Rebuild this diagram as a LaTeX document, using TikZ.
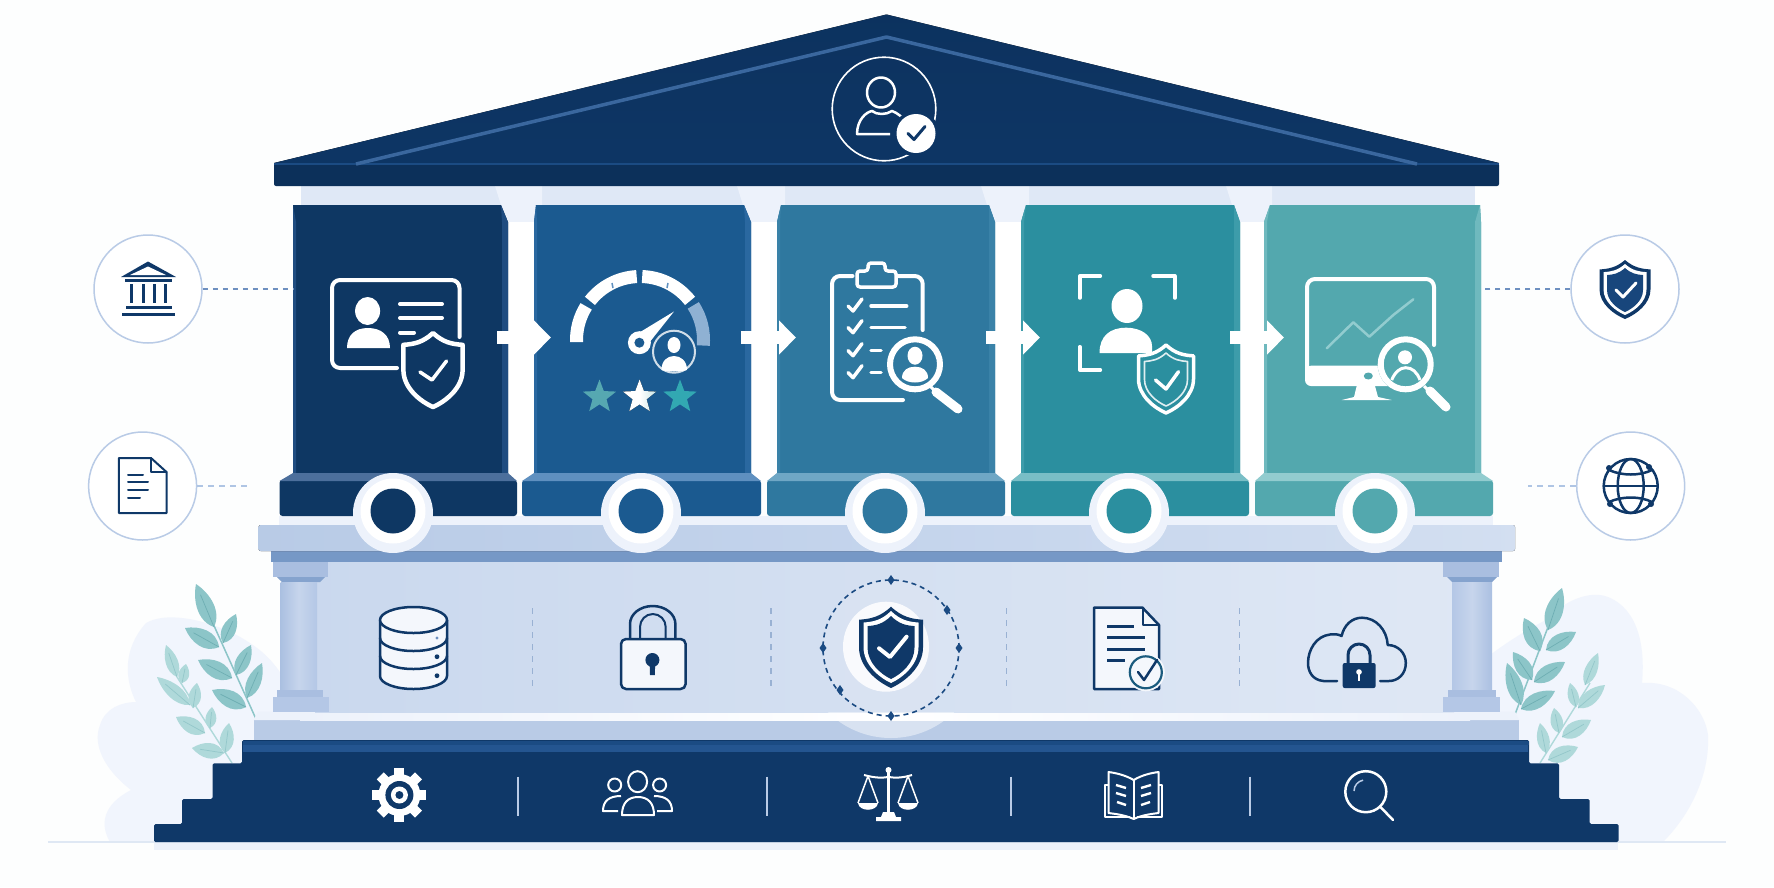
\documentclass[tikz,border=0pt]{standalone}
\usetikzlibrary{arrows.meta,calc}
\definecolor{navy}{HTML}{0F3868}
\definecolor{roofnavy}{HTML}{0D3564}
\definecolor{navyb}{HTML}{1B4B83}
\definecolor{navyc}{HTML}{245590}
\definecolor{paper}{HTML}{FDFEFE}
\definecolor{ring}{HTML}{B9CBE6}
\definecolor{linkdark}{HTML}{6E90C0}
\definecolor{linklight}{HTML}{AFC5E4}
\definecolor{pale}{HTML}{EDF2FB}
\definecolor{blob}{HTML}{F1F5FD}
\definecolor{beam}{HTML}{C4D4EC}
\definecolor{under}{HTML}{7698C6}
\definecolor{stylo}{HTML}{B9CBE6}
\definecolor{capit}{HTML}{A9BEE0}
\definecolor{shaft}{HTML}{B4C7E6}
\definecolor{iconfill}{HTML}{F4F7FC}
\definecolor{leafa}{HTML}{8CC5C8}
\definecolor{leafb}{HTML}{AFD9DA}
\definecolor{veina}{HTML}{6EAEB3}
\definecolor{veinb}{HTML}{93C7CA}
\definecolor{pA}{HTML}{0E3763}\definecolor{pAb}{HTML}{1F4C80}\definecolor{pAs}{HTML}{4C6F9C}
\definecolor{pB}{HTML}{1B5A90}\definecolor{pBb}{HTML}{2A68A0}\definecolor{pBs}{HTML}{5F90C0}
\definecolor{pC}{HTML}{2F789F}\definecolor{pCb}{HTML}{3A82A8}\definecolor{pCs}{HTML}{6FA7C5}
\definecolor{pD}{HTML}{2B8F9F}\definecolor{pDb}{HTML}{3D9CAA}\definecolor{pDs}{HTML}{79BEC6}
\definecolor{pE}{HTML}{53A8AE}\definecolor{pEb}{HTML}{6FB9BE}\definecolor{pEs}{HTML}{92CCCF}
\tikzset{
  sidecircle/.style={circle,draw=ring,line width=1.5pt,fill=white,minimum size=108pt,inner sep=0pt},
  linkstrong/.style={draw=linkdark,line width=1.6pt,dash pattern=on 5pt off 5pt},
  linksoft/.style={draw=linklight,line width=1.6pt,dash pattern=on 6pt off 5pt},
  flowarrow/.style={draw=white,line width=13pt,-{Triangle[length=17pt,width=33pt,fill=white]}},
  wline/.style={draw=white,line width=4pt,line cap=round,line join=round},
  wthin/.style={draw=white,line width=3pt,line cap=round,line join=round},
  nline/.style={draw=navy,line width=2.5pt,line cap=round,line join=round},
  nthin/.style={draw=navy,line width=2pt,line cap=round,line join=round},
  divider/.style={draw=#1,line width=1.5pt,dash pattern=on 6pt off 6pt},
  stepline/.style={draw=ring,line width=1.2pt}
}
% Heater shield in unit coordinates: top centre at the origin, half width 1, height 1
\newcommand\shieldpath{(0,0) .. controls (.35,.13) and (.65,.15) .. (1,.16) -- (1,.5) .. controls (1,.74) and (.45,.92) .. (0,1) .. controls (-.45,.92) and (-1,.74) .. (-1,.5) -- (-1,.16) .. controls (-.65,.15) and (-.35,.13) .. (0,0) -- cycle}
\newcommand\shieldat[5]{\begin{scope}[shift={(#1,#2)},x=#3pt,y=-#4pt]\path[#5]\shieldpath;\end{scope}}
% Leaf from base to tip: base x, base y, tip x, tip y, width, fill, vein
\newcommand\leafat[7]{%
  \pgfmathsetmacro\leafang{atan2(#2-#4,#3-#1)}%
  \pgfmathsetmacro\leaflen{veclen(#3-#1,#4-#2)}%
  \begin{scope}[shift={(#1,#2)},rotate=\leafang,x=1pt,y=1pt]
    \fill[#6] (0,0) .. controls ({.25*\leaflen},{1.2*#5}) and ({.7*\leaflen},{.85*#5}) .. ({\leaflen},0)
      .. controls ({.7*\leaflen},{-.85*#5}) and ({.25*\leaflen},{-1.2*#5}) .. cycle;
    \draw[#7,line width=.7pt] (0,0) -- ({.75*\leaflen},0);
  \end{scope}}
% Five-pointed star: centre x, centre y, outer radius, fill
\newcommand\starat[4]{\begin{scope}[shift={(#1,#2)}]
  \fill[#4] (-90:#3) -- (-54:{.42*#3}) -- (-18:#3) -- (18:{.42*#3}) -- (54:#3) -- (90:{.42*#3}) -- (126:#3) -- (162:{.42*#3}) -- (198:#3) -- (234:{.42*#3}) -- cycle;
\end{scope}}
\newcommand\markat[2]{\fill[navyb] (#1,#2-5) -- (#1+3.5,#2) -- (#1,#2+5) -- (#1-3.5,#2) -- cycle;}
% Pillar panel: left, right, left chamfer, right chamfer, base left, base right, colour stem
\newcommand\panelat[7]{%
  \fill[#7] ({#1+#3},205) -- ({#2-#4},205) -- (#2,222) -- (#2,473) -- (#1,473) -- (#1,222) -- cycle;
  \fill[#7b] ({#2-#4},205) -- (#2,222) -- (#2,473) -- ({#2-6},473) -- ({#2-6},222) -- cycle;
  \fill[#7b] ({#1+#3},205) -- (#1,222) -- (#1,473) -- ({#1+3},473) -- ({#1+3},222) -- cycle;
  \fill[#7,rounded corners=3pt] (#5,480) rectangle (#6,516);
  \fill[#7s] (#5,481) -- (#1,473) -- (#2,473) -- (#6,481) -- cycle;
}
% Capital flaring from the frieze into the gap between two panels
\newcommand\capitalat[4]{\fill[#4] (#1,186) -- (#2,186) -- (#2,205) -- ({#2-8},222) -- ({#1+14},222) -- ({#1+6},205) -- cycle; \fill[white] ({#1+14},222) rectangle ({#2-8},480);}
\newcommand\discat[3]{%
  \fill[pale] (#1,513) circle[radius=40pt];
  \fill[white] (#1,511) circle[radius=32.5pt];
  \fill[#2] (#1,511) circle[radius=22.5pt];}
\begin{document}
\begin{tikzpicture}[x=1pt,y=-1pt,line join=round]
\useasboundingbox (0,0) rectangle (1774,887);
\fill[paper] (0,0) rectangle (1774,887);

% Soft background shapes at both sides
\fill[blob] (110,842) .. controls (100,825) and (102,805) .. (131,790)
  .. controls (105,770) and (92,745) .. (100,725) .. controls (105,708) and (122,702) .. (136,702)
  .. controls (125,680) and (122,650) .. (146,623) .. controls (165,612) and (200,618) .. (233,633)
  .. controls (255,645) and (270,655) .. (285,680) -- (285,842) -- cycle;
\fill[blob] (1490,842) -- (1490,655) .. controls (1510,640) and (1530,628) .. (1546,620)
  .. controls (1565,600) and (1590,590) .. (1608,597) .. controls (1640,610) and (1645,650) .. (1642,683)
  .. controls (1680,680) and (1705,710) .. (1708,735) .. controls (1710,775) and (1690,815) .. (1663,842) -- cycle;

% Ground line and its shadow
\fill[pale] (154,843) rectangle (1618,850);
\fill[ring!45] (48,841) rectangle (1726,843);

% Foliage on the left
\draw[leafb,line width=1.4pt] (232,763) -- (177,677);
\leafat{177}{677}{166}{645}{8}{leafb}{veinb}
\leafat{182}{683}{186}{664}{7}{leafb}{veinb}
\leafat{190}{705}{157}{677}{9}{leafb}{veinb}
\leafat{193}{708}{197}{683}{8}{leafb}{veinb}
\leafat{205}{733}{176}{717}{10}{leafb}{veinb}
\leafat{210}{728}{212}{707}{7}{leafb}{veinb}
\leafat{225}{753}{229}{723}{9}{leafb}{veinb}
\leafat{224}{753}{192}{748}{10}{leafb}{veinb}
\draw[leafa,line width=1.5pt] (256,719) -- (213.7,625);
\leafat{214}{627}{196}{584}{11}{leafa}{veina}
\leafat{223}{643}{236}{614}{9}{leafa}{veina}
\leafat{219}{647}{185}{628}{11}{leafa}{veina}
\leafat{236}{675}{251}{645}{9}{leafa}{veina}
\leafat{232}{678}{198}{660}{11}{leafa}{veina}
\leafat{247}{698}{262}{663}{9}{leafa}{veina}
\leafat{246}{707}{212}{690}{11}{leafa}{veina}

% Foliage on the right
\draw[leafb,line width=1.4pt] (1540,763) -- (1590,683);
\leafat{1585}{685}{1598}{653}{8}{leafb}{veinb}
\leafat{1578}{708}{1605}{685}{9}{leafb}{veinb}
\leafat{1576}{707}{1570}{683}{7}{leafb}{veinb}
\leafat{1559}{733}{1554}{708}{8}{leafb}{veinb}
\leafat{1562}{737}{1591}{720}{10}{leafb}{veinb}
\leafat{1546}{753}{1540}{723}{8}{leafb}{veinb}
\leafat{1548}{760}{1578}{747}{10}{leafb}{veinb}
\draw[leafa,line width=1.5pt] (1514,717) -- (1548,627);
\leafat{1548}{630}{1562}{588}{11}{leafa}{veina}
\leafat{1540}{651}{1524}{618}{11}{leafa}{veina}
\leafat{1546}{650}{1576}{632}{10}{leafa}{veina}
\leafat{1532}{680}{1513}{652}{10}{leafa}{veina}
\leafat{1534}{682}{1565}{662}{10}{leafa}{veina}
\leafat{1521}{705}{1507}{663}{10}{leafa}{veina}
\leafat{1521}{709}{1555}{691}{10}{leafa}{veina}

% Stepped plinth
\fill[navy,rounded corners=1.5pt] (154,842) -- (154,824) -- (182,824) -- (182,799) -- (212.6,799) -- (212.6,763.3) -- (242,763.3) -- (242,740)
  -- (1529,740) -- (1529,763.3) -- (1559,763.3) -- (1559,799) -- (1589.6,799) -- (1589.6,824) -- (1618.6,824) -- (1618.6,842) -- cycle;
\fill[navyb] (242.5,740.5) rectangle (1528.5,745);
\fill[navyc] (243,745) rectangle (1528,752);

% Stylobate
\fill[stylo] (253.5,720) rectangle (1519,740);
\fill[pale] (258,711.5) -- (1515,711.5) -- (1519,720) -- (253.5,720) -- cycle;
\fill[left color=pale,right color=pale,middle color=white] (300,713) rectangle (1470,720);

% Wall between the small columns
\fill[left color=beam!90!white,right color=beam!55!white] (315,562) rectangle (1454,712);

% Small columns
\fill[capit] (273,562) rectangle (328,577);
\fill[under!70!capit] (277,577) -- (325,577) -- (320,582) -- (282,582) -- cycle;
\fill[left color=shaft!85!under,right color=shaft,middle color=shaft!75!white] (280.5,582) rectangle (317,690);
\fill[capit] (277,690) rectangle (323,697);
\fill[shaft] (273,697) rectangle (329,712);
\fill[capit] (1443,562) rectangle (1499,577);
\fill[under!70!capit] (1447,577) -- (1497,577) -- (1492,582) -- (1452,582) -- cycle;
\fill[left color=shaft,right color=shaft!85!under,middle color=shaft!75!white] (1452,582) rectangle (1492,690);
\fill[capit] (1448,690) rectangle (1496,697);
\fill[shaft] (1442.5,697) rectangle (1500,712);

% Entablature
\fill[under] (271,551) rectangle (1502,562);
\fill[left color=beam!85!under,right color=beam!75!white,middle color=beam,rounded corners=2pt] (258.6,525) rectangle (1515,551);
\fill[pale] (279,516) rectangle (1493,525);

% Frieze and capitals above the panels
\fill[pale!65!beam] (301,186) rectangle (1475,205);
\capitalat{495}{542}{0}{pale}
\capitalat{737}{785}{0}{pale}
\capitalat{981}{1029}{0}{pale}
\capitalat{1226}{1272}{0}{pale}

% Pillar panels
\panelat{293}{508}{0}{7}{279.5}{517}{pA}
\panelat{534}{751}{2}{7}{522}{761}{pB}
\panelat{777}{995}{4}{6}{767}{1005}{pC}
\panelat{1021}{1240}{5}{6}{1011}{1249}{pD}
\panelat{1264}{1481}{6}{1}{1255}{1493}{pE}

% Flow between the panels
\coordinate (flowAs) at (497,337.5); \coordinate (flowAt) at (551,337.5);
\coordinate (flowBs) at (741,337.5); \coordinate (flowBt) at (796,337.5);
\coordinate (flowCs) at (986,337.5); \coordinate (flowCt) at (1040,337.5);
\coordinate (flowDs) at (1230,337.5); \coordinate (flowDt) at (1284,337.5);
\draw[flowarrow] (flowAs) -- (flowAt);
\draw[flowarrow] (flowBs) -- (flowBt);
\draw[flowarrow] (flowCs) -- (flowCt);
\draw[flowarrow] (flowDs) -- (flowDt);

% Discs on the panel bases
\discat{393}{pA}{}
\discat{641}{pB}{}
\discat{885}{pC}{}
\discat{1129}{pD}{}
\discat{1375}{pE}{}

% Pediment
\fill[top color=roofnavy!95!black,bottom color=roofnavy!90!navy] (886.5,14.5) -- (1499,163) -- (274,163) -- cycle;
\fill[roofnavy!90!black,rounded corners=2pt] (274,163) rectangle (1499,186);
\fill[navyb] (274,163) rectangle (1499,165);
\draw[navyc!70!linkdark,line width=3.5pt] (356,164) -- (886.5,37) -- (1417,164);
\draw[white,line width=1.6pt] (884,109) circle[radius=51.8pt];
\draw[white,line width=2.5pt] (881,92.5) ellipse[x radius=14pt,y radius=15pt];
\draw[white,line width=2.5pt,line join=round] (890,134) -- (857,134) .. controls (857,120) and (866,112) .. (872,111) .. controls (877,115) and (886,115) .. (892,111) .. controls (898,113) and (903,118) .. (906,122);
\fill[roofnavy] (916,133.5) circle[radius=23pt];
\fill[white] (916,133.5) circle[radius=19.5pt];
\draw[navy,line width=3pt,line cap=round] (908,133.5) -- (914,139.5) -- (925,126.5);

% Satellite circles and their links
\coordinate (panelAtop) at (293,289);
\coordinate (panelAlow) at (252,486);
\coordinate (panelEtop) at (1481,289);
\coordinate (panelElow) at (1528,486);
\node[sidecircle] (sideTL) at (148,289) {};
\node[sidecircle] (sideBL) at (142.6,486) {};
\node[sidecircle] (sideTR) at (1625,289) {};
\node[sidecircle] (sideBR) at (1630.7,486) {};
\draw[linkstrong] (sideTL) -- (panelAtop);
\draw[linksoft] (sideBL) -- (panelAlow);
\draw[linkstrong] (sideTR) -- (panelEtop);
\draw[linksoft] (sideBR) -- (panelElow);

% Temple
\fill[navy] (148,261.5) -- (176,277) -- (121,277) -- cycle;
\fill[white] (148,266.5) -- (166,275) -- (130,275) -- cycle;
\fill[navy] (125,279) rectangle (171.5,282);
\foreach \cx in {131,143,154,165.6}{\fill[navy] (\cx-1.5,284) rectangle (\cx+1.5,303);}
\fill[navy] (125.6,306) rectangle (171.6,309);
\fill[navy] (122,312.5) rectangle (175,315.5);

% Page
\draw[nthin] (151,458) -- (118.8,458) -- (118.8,513) -- (166.5,513) -- (166.5,472) -- cycle;
\draw[nthin] (151,458) -- (151,472) -- (166.5,472);
\draw[nthin] (128,474.5) -- (143,474.5) (128,482) -- (148,482) (128,490) -- (148,490) (128,497.7) -- (140,497.7);

% Small shield
\shieldat{1625}{260}{25.5}{59}{fill=navy}
\shieldat{1625}{264}{21.5}{51}{fill=white}
\shieldat{1625}{268}{18}{44}{fill=navyb!75!navy}
\draw[wthin] (1616,290) -- (1623,297) -- (1636,283);

% Globe
\draw[nline] (1630.7,486) circle[radius=27pt];
\draw[nline] (1630.7,486) ellipse[x radius=13pt,y radius=27pt];
\draw[nline] (1603.7,486) -- (1657.7,486);
\draw[nline] (1609,470) .. controls (1622,476) and (1640,476) .. (1652,470);
\draw[nline] (1609,502) .. controls (1622,496) and (1640,496) .. (1652,502);
\foreach \px/\py in {1609/468,1649/467,1610/504,1651/504}{\fill[navy] (\px,\py) circle[radius=3pt];}

% Identity card on the first panel
\draw[wline,rounded corners=8pt] (459.5,337) -- (459.5,280) -- (332,280) -- (332,368) -- (397,368);
\fill[white] (367.6,311) ellipse[x radius=12.5pt,y radius=14pt];
\fill[white] (347,348) .. controls (347,335) and (355,328) .. (368,328) .. controls (381,328) and (390,335) .. (390,348) -- cycle;
\draw[wline] (400,304) -- (442,304) (400,318) -- (442,318) (400,332.5) -- (414,332.5);
\shieldat{433}{333}{29.6}{74}{fill=pA,draw=white,line width=4.5pt}
\draw[draw=white,line width=3.5pt,line cap=round] (420,372) -- (432,380) -- (446.5,361);

% Gauge on the second panel
\foreach \ang/\ext/\col in {182/34/white,142/49/white,88/50/white,33/38/pBs!70!white}{
  \draw[\col,line width=13pt] ({640+63.5*cos(\ang)},{340-63.5*sin(\ang)}) arc[start angle=\ang,delta angle=-\ext,radius=63.5pt];}
\draw[pBs,line width=1.5pt] (612,283) -- (613,288) (668,283) -- (667,288);
\fill[white] (632,337) -- (674,311.5) -- (645,348) -- cycle;
\fill[white] (639.4,342.7) circle[radius=11.5pt];
\fill[pB] (639.4,342.7) circle[radius=5pt];
\fill[pB] (674,351.7) circle[radius=23pt];
\draw[white!80!pB,line width=2pt] (674,351.7) circle[radius=21pt];
\fill[white] (674,345) ellipse[x radius=6.5pt,y radius=8pt];
\fill[white] (661.5,370) .. controls (661.5,361) and (667,356) .. (674,356) .. controls (681,356) and (687,361) .. (687,370) .. controls (680,372) and (668,372) .. (661.5,370) -- cycle;
\starat{599.5}{397}{17.5}{pE!60!pD!90!white}
\starat{639.6}{397}{17.5}{left color=white,right color=pEs!50!white,middle color=white}
\starat{680}{397}{17.5}{pD!60!pE!85!cyan}

% Clipboard on the third panel
\draw[wline,rounded corners=8pt] (852.5,276) -- (832,276) -- (832,400) -- (903,400);
\draw[wline,rounded corners=8pt] (898.5,276) -- (922.7,276) -- (922.7,330);
\draw[wthin,line width=3.5pt,rounded corners=3pt] (857,287) -- (857,271) -- (868,271) -- (868,263) -- (885,263) -- (885,271) -- (896,271) -- (896,287) -- cycle;
\foreach \ry in {306,327.7,350.7,372.7}{\draw[wthin,line width=3.5pt] (848,\ry) -- (853,\ry+5) -- (862,\ry-7);}
\draw[wthin,line width=3.5pt] (871,306) -- (906.7,306) (871,327.7) -- (905,327.7) (871,350.7) -- (881,350.7) (871,372.7) -- (881,372.7);
\fill[pC] (915,364.3) circle[radius=28pt];
\draw[white,line width=6pt] (915,364.3) circle[radius=25pt];
\fill[white] (915,355.7) ellipse[x radius=7.5pt,y radius=9pt];
\fill[white] (902,378) .. controls (902,370) and (908,366.7) .. (915,366.7) .. controls (922,366.7) and (928,370) .. (928,378) .. controls (922,384) and (908,384) .. (902,378) -- cycle;
\draw[white,line width=3pt] (930,386) -- (935,391);
\draw[white,line width=9pt,line cap=round] (936,392) -- (958,409);

% Framed face on the fourth panel
\draw[wline,line width=3.5pt] (1079.8,298) -- (1079.8,276) -- (1100.4,276);
\draw[wline,line width=3.5pt] (1153,276) -- (1174.8,276) -- (1174.8,298);
\draw[wline,line width=3.5pt] (1079.8,346.7) -- (1079.8,370) -- (1100.4,370);
\fill[white] (1127,306) ellipse[x radius=15.5pt,y radius=17pt];
\fill[white] (1099.5,353) .. controls (1099.5,336) and (1110,327.7) .. (1126,327.7) .. controls (1142,327.7) and (1152,336) .. (1152,346) -- (1152,353) -- cycle;
\shieldat{1166}{345}{30}{71}{fill=pD}
\shieldat{1166}{345}{27.5}{68}{fill=pD,draw=white,line width=3.5pt}
\shieldat{1166}{353}{21.5}{53}{draw=white!85!pD,line width=1.6pt}
\draw[white,line width=3.5pt,line cap=round] (1155.5,380) -- (1166,389) -- (1178.5,371.7);

% Monitor on the fifth panel
\fill[white,rounded corners=6pt] (1305,365.7) -- (1305,386) -- (1400,386) -- (1400,365.7) -- cycle;
\draw[wline,rounded corners=8pt] (1434,345) -- (1434,279) -- (1307,279) -- (1307,372);
\fill[white] (1356.7,386) -- (1375,386) -- (1378,397) -- (1391.7,400) -- (1341.7,400) -- (1354,397) -- cycle;
\draw[pEs,line width=2.5pt,line cap=round] (1326.7,348.3) -- (1353.3,322.3) -- (1369.3,336.7) -- (1393.3,315) -- (1413.3,299.3);
\fill[pE] (1368.3,376) ellipse[x radius=4.5pt,y radius=3.5pt];
\fill[pE] (1405.7,364.3) circle[radius=28pt];
\draw[white,line width=6pt] (1405.7,364.3) circle[radius=25pt];
\fill[white] (1405,357.3) circle[radius=7pt];
\draw[white,line width=3pt] (1391.7,380) .. controls (1395,372) and (1400,367.7) .. (1405.7,367.7) .. controls (1412,367.7) and (1417,372) .. (1420,380);
\draw[white,line width=3pt] (1424,386) -- (1429,391);
\draw[white,line width=9pt,line cap=round] (1430,391) -- (1446,407);

% Dividers in the wall
\draw[divider=linkdark!70!white] (532.5,608) -- (532.5,687);
\draw[divider=linkdark!70!white] (771,608) -- (771,687);
\draw[divider=linkdark!70!white] (1006.5,608) -- (1006.5,687);
\draw[divider=linkdark!70!white] (1239.6,608) -- (1239.6,687);

% Database
\path[nline,fill=iconfill] (380,620) -- (380,676) arc[start angle=180,end angle=360,x radius=33.5pt,y radius=13pt] -- (447,620);
\path[nline,fill=iconfill] (413.5,620) ellipse[x radius=33.5pt,y radius=13pt];
\draw[nline] (380,638) arc[start angle=180,end angle=360,x radius=33.5pt,y radius=13pt];
\draw[nline] (380,656) arc[start angle=180,end angle=360,x radius=33.5pt,y radius=13pt];
\fill[linkdark] (437,638) circle[radius=1.7pt];
\fill[navy] (437,656.7) circle[radius=2.4pt];
\fill[navy] (437,675.7) circle[radius=2.4pt];

% Padlock
\draw[nline] (630,639) -- (630,624) arc[start angle=180,end angle=0,x radius=22.7pt,y radius=18pt] -- (675.4,639);
\draw[draw=navy,line width=2pt] (640,639) -- (640,627) arc[start angle=180,end angle=0,x radius=12.85pt,y radius=13pt] -- (665.7,639);
\path[nline,fill=iconfill,rounded corners=5pt] (621,639) rectangle (685.6,689);
\fill[navy] (652.4,660) circle[radius=7pt];
\fill[navy] (649.6,662) -- (655.2,662) -- (654.8,675) -- (650,675) -- cycle;

% Central shield with its dashed orbit; the glow shows mostly on the stylobate
\begin{scope}
  \clip (700,712) rectangle (1080,745);
  \fill[white,opacity=.45] (891,648) circle[radius=90pt];
\end{scope}
\fill[white,opacity=.12] (891,648) circle[radius=68pt];
\fill[white,opacity=.85] (886,646.7) ellipse[x radius=43pt,y radius=45pt];
\draw[navyb,line width=1.6pt,dash pattern=on 5pt off 4pt] (891,648) circle[radius=68pt];
\markat{891}{580}
\markat{891}{716}
\markat{959}{648}
\markat{823}{648}
\markat{947}{610}
\markat{840}{690}
\shieldat{891}{606.7}{32}{81.3}{fill=navy}
\shieldat{891}{611}{27.5}{72}{fill=white}
\shieldat{891}{616}{23.5}{63}{fill=navy}
\draw[white,line width=4pt,line cap=round] (879,648.3) -- (890,657) -- (906.6,636.7);

% Certified document
\path[nline,fill=iconfill] (1142.5,607.7) -- (1094,607.7) -- (1094,689) -- (1159,689) -- (1159,625) -- cycle;
\draw[nthin] (1142.5,607.7) -- (1142.5,625) -- (1159,625);
\draw[nline,line width=3pt,line cap=butt] (1107,626.7) -- (1134,626.7) (1107,637.3) -- (1145,637.3) (1107,649) -- (1145,649) (1107,660) -- (1125,660);
\fill[iconfill] (1145.8,672.3) circle[radius=19pt];
\draw[navy!60!pD,line width=2.2pt] (1145.8,672.3) circle[radius=16pt];
\draw[navy,line width=2.5pt,line cap=round,line join=round] (1138,672) -- (1144,680) -- (1157,660);

% Cloud with padlock
\draw[nline] (1337,681) -- (1323.5,681) .. controls (1312,680) and (1308,671) .. (1308,663) .. controls (1308,650) and (1316,636) .. (1330,634.5) .. controls (1334,634) and (1338,634) .. (1341.6,636) .. controls (1344,625) and (1352,617.7) .. (1362,617.7) .. controls (1376,617.7) and (1387,630) .. (1387.7,645) .. controls (1398,645) and (1405.8,653) .. (1405.8,663) .. controls (1405.8,674) and (1398,681) .. (1389,681) -- (1380,681);
\draw[nline,line width=3pt] (1348,664) -- (1348,655) arc[start angle=180,end angle=0,x radius=11pt,y radius=11pt] -- (1370,664);
\fill[navy,rounded corners=2pt] (1342.7,663) rectangle (1375.6,688);
\fill[white] (1359,672) circle[radius=2.8pt];
\fill[white] (1358,672) rectangle (1360,681);

% Gear on the plinth
\foreach \ang in {0,45,...,315}{
  \begin{scope}[shift={(399.4,795)},rotate=\ang]
    \fill[white] (-5,-27) rectangle (5,-16);
  \end{scope}}
\fill[white] (399.4,795) circle[radius=21pt];
\fill[navy] (399.4,795) circle[radius=14pt];
\fill[white] (399.4,795) circle[radius=8.5pt];
\fill[navy] (399.4,795) circle[radius=4pt];

% Dividers on the plinth
\draw[stepline] (518,776.7) -- (518,815.7);
\draw[stepline] (767,776.7) -- (767,815.7);
\draw[stepline] (1011,776.7) -- (1011,815.7);
\draw[stepline] (1250,776.7) -- (1250,815.7);

% Group of people
\draw[white,line width=2pt] (637.6,781.7) ellipse[x radius=9.5pt,y radius=10.5pt];
\draw[white,line width=2pt] (614.7,785) circle[radius=6.5pt];
\draw[white,line width=2pt] (659.6,785) circle[radius=6.5pt];
\draw[white,line width=2pt] (622,815) .. controls (622,803) and (628,797) .. (638,797) .. controls (648,797) and (654,803) .. (654,815) -- cycle;
\draw[white,line width=2pt] (618,811) -- (603,811) .. controls (603,801) and (609,796) .. (621,796);
\draw[white,line width=2pt] (657,811) -- (672,811) .. controls (672,801) and (666,796) .. (654,796);

% Balance scales
\draw[white,line width=2.8pt] (888.5,769) -- (888.5,816);
\fill[white] (888.5,770) circle[radius=3pt];
\draw[white,line width=2pt] (864,775) .. controls (875,778) and (882,778) .. (888.5,777) .. controls (895,778) and (902,778) .. (912,775);
\draw[white,line width=1.5pt] (858,803) -- (868,776) -- (878,803) (898,803) -- (908,776) -- (918,803);
\fill[white] (858,803) .. controls (859,812) and (877,812) .. (878,803) -- cycle;
\fill[white] (898,803) .. controls (899,812) and (917,812) .. (918,803) -- cycle;
\fill[white] (883,812) -- (894,812) -- (896,817) -- (901,817) -- (901,821) -- (876,821) -- (876,817) -- (881,817) -- cycle;

% Open book
\draw[white,line width=2pt,line join=round] (1133.7,780) .. controls (1125,775) and (1116,773) .. (1108.5,772) -- (1108.5,813) .. controls (1116,814) and (1125,815) .. (1133.7,819) .. controls (1142,815) and (1151,814) .. (1158.5,813) -- (1158.5,772) .. controls (1151,773) and (1142,775) .. (1133.7,780) -- cycle;
\draw[white,line width=2pt] (1133.7,780) -- (1133.7,819);
\draw[white,line width=1.6pt] (1108,785) -- (1105,785) -- (1105,817) -- (1130,817) (1159,785) -- (1161.7,785) -- (1161.7,817) -- (1137,817);
\draw[white,line width=2.4pt] (1116,785) -- (1126,788) (1116,793) -- (1126,796) (1117,802) -- (1126,805) (1141,788) -- (1151,785) (1141,796) -- (1151,793) (1141,805) -- (1150,802);

% Magnifying glass
\draw[white,line width=2.5pt] (1365.8,791.7) circle[radius=20.5pt];
\draw[white,line width=2.5pt,line cap=round] (1380,806.5) -- (1393,820);
\draw[ring,line width=1.5pt] (1354,791) arc[start angle=180,end angle=100,radius=11pt];
\end{tikzpicture}
\end{document}
